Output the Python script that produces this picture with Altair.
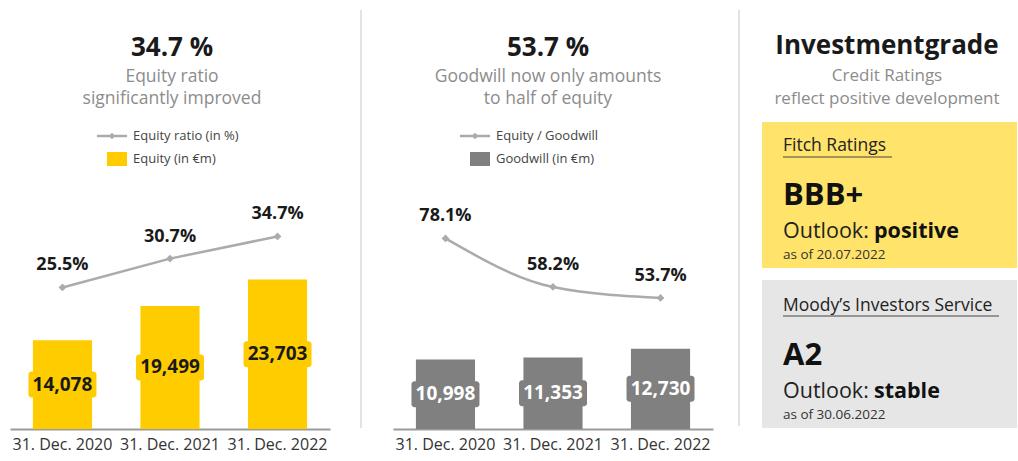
import altair as alt
import pandas as pd

# ---------------- data ----------------
dates = ["31. Dec. 2020", "31. Dec. 2021", "31. Dec. 2022"]
equity = [14078, 19499, 23703]            # Equity (in €m)
equity_ratio = [25.5, 30.7, 34.7]         # Equity ratio (in %)
goodwill = [10998, 11353, 12730]          # Goodwill (in €m)
equity_goodwill = [78.1, 58.2, 53.7]      # Equity / Goodwill (in %)

headers = ["34.7 %", "53.7 %", "Investmentgrade"]
subtitles = [["Equity ratio", "significantly improved"],
             ["Goodwill now only amounts", "to half of equity"],
             ["Credit Ratings", "reflect positive development"]]
legend_line = ["Equity ratio (in %)", "Equity / Goodwill"]
legend_bar = ["Equity (in €m)", "Goodwill (in €m)"]

agencies = ["Fitch Ratings", "Moody’s Investors Service"]
ratings = ["BBB+", "A2"]
outlooks = ["positive", "stable"]
as_of = ["as of 20.07.2022", "as of 30.06.2022"]

# ---------------- style ----------------
FONT = "Open Sans"
YELLOW = "#FFCC00"
GREY_BAR = "#808080"
LINE = "#ABABAB"
DARK = "#1a1a1a"
SUB = "#8c8c8c"
W, H = 320, 429
BAR_MAX = 68000
ONE = pd.DataFrame({"k": [0]})


def txt(t, x, y, size, color=DARK, weight="normal", align="center"):
    return alt.Chart(pd.DataFrame({"t": [t]})).mark_text(
        font=FONT, fontSize=size, fontWeight=weight, color=color, align=align, baseline="middle"
    ).encode(text="t:N", x=alt.value(x), y=alt.value(y))


def rect(x, x2, y, y2, color, radius=0):
    return alt.Chart(ONE).mark_rect(color=color, cornerRadius=radius).encode(
        x=alt.value(x), x2=alt.value(x2), y=alt.value(y), y2=alt.value(y2))


def rule(x, x2, y, y2, color, width):
    return alt.Chart(ONE).mark_rule(color=color, strokeWidth=width).encode(
        x=alt.value(x), x2=alt.value(x2), y=alt.value(y), y2=alt.value(y2))


def panel(values, pcts, bar_color, label_color, pct_max, interp, idx, cx, lx, sep_x=None):
    df = pd.DataFrame({"date": dates, "value": values, "pct": pcts})
    xenc = alt.X("date:N", sort=dates,
                 scale=alt.Scale(paddingInner=0.45, paddingOuter=0.213),
                 axis=alt.Axis(title=None, labelAngle=0, ticks=False, domainColor="#9a9a9a",
                               domainWidth=2, labelFont=FONT, labelFontSize=16,
                               labelColor="#333333", labelPadding=7))
    bscale = alt.Scale(domain=[0, BAR_MAX], nice=False, zero=True)
    pscale = alt.Scale(domain=[0, pct_max], nice=False, zero=True)
    half = 13 * BAR_MAX / H
    base = alt.Chart(df)
    bars = base.mark_bar(color=bar_color).encode(
        x=xenc, y=alt.Y("value:Q", scale=bscale, axis=None))
    box = base.transform_calculate(
        lo=f"datum.value/2 - {half}", hi=f"datum.value/2 + {half}"
    ).mark_bar(color=bar_color, width=68, cornerRadius=3).encode(
        x=xenc, y=alt.Y("lo:Q", scale=bscale, axis=None), y2="hi:Q")
    blabel = base.transform_calculate(mid="datum.value/2").mark_text(
        font=FONT, fontSize=19, fontWeight="bold", color=label_color, baseline="middle"
    ).encode(x=xenc, y=alt.Y("mid:Q", scale=bscale, axis=None),
             text=alt.Text("value:Q", format=",.0f"))
    line = base.mark_line(color=LINE, strokeWidth=2.5, interpolate=interp).encode(
        x=xenc, y=alt.Y("pct:Q", scale=pscale, axis=None))
    pts = base.mark_point(shape="diamond", filled=True, color=LINE, size=60, opacity=1).encode(
        x=xenc, y=alt.Y("pct:Q", scale=pscale, axis=None))
    plabel = base.transform_calculate(lab="format(datum.pct, '.1f') + '%'").mark_text(
        font=FONT, fontSize=18, fontWeight="bold", color=DARK, baseline="middle", dy=-22
    ).encode(x=xenc, y=alt.Y("pct:Q", scale=pscale, axis=None), text="lab:N")

    deco = [
        txt(headers[idx], cx, 48, 26, DARK, "bold"),
        txt(subtitles[idx][0], cx, 77, 17.5, SUB),
        txt(subtitles[idx][1], cx, 99, 17.5, SUB),
        rule(lx, lx + 30, 136, 136, LINE, 2.5),
        alt.Chart(ONE).mark_point(shape="diamond", filled=True, color=LINE, size=40, opacity=1)
        .encode(x=alt.value(lx + 15), y=alt.value(136)),
        txt(legend_line[idx], lx + 36, 136, 13, "#444444", align="left"),
        rect(lx + 10, lx + 30, 152, 166, bar_color),
        txt(legend_bar[idx], lx + 36, 159, 13, "#444444", align="left"),
    ]
    if sep_x is not None:
        deco.append(rule(sep_x, sep_x, 10, 428, "#e2e2e2", 2))
    return alt.layer(bars, box, blabel, line, pts, plabel, *deco).resolve_scale(
        y="independent").properties(width=W, height=H)


p1 = panel(equity, equity_ratio, YELLOW, DARK, 77.3, "linear", 0, 162, 87, 351)
p2 = panel(goodwill, equity_goodwill, GREY_BAR, "#ffffff", 175.8, "monotone", 1, 155, 67)

# ratings panel (origin at page x = 776)
p3 = alt.layer(
    rule(-37, -37, 10, 426, "#e2e2e2", 2),
    txt(headers[2], 111, 46, 26, DARK, "bold"),
    txt(subtitles[2][0], 111, 76, 17, SUB),
    txt(subtitles[2][1], 111, 99, 17, SUB),
    rect(-14, 241, 122, 268, "#FFE36B"),
    txt(agencies[0], 7, 146, 17.5, "#222222", align="left"),
    rule(7, 116, 157, 157, "#444444", 1),
    txt(ratings[0], 7, 196, 31, "#111111", "bold", align="left"),
    txt("Outlook:", 7, 232, 21.5, "#222222", align="left"),
    txt(outlooks[0], 98, 232, 21.5, "#111111", "bold", align="left"),
    txt(as_of[0], 7, 255, 13.5, "#333333", align="left"),
    rect(-14, 241, 280, 428, "#E6E6E6"),
    txt(agencies[1], 7, 306, 17.5, "#222222", align="left"),
    rule(7, 223, 316, 316, "#444444", 1),
    txt(ratings[1], 7, 356, 31, "#111111", "bold", align="left"),
    txt("Outlook:", 7, 392, 21.5, "#222222", align="left"),
    txt(outlooks[1], 98, 392, 21.5, "#111111", "bold", align="left"),
    txt(as_of[1], 7, 415, 13.5, "#333333", align="left"),
).properties(width=241, height=H)

chart = alt.hconcat(p1, p2, p3, spacing=63, bounds="flush").properties(
    padding={"left": 10, "top": 0, "right": 0, "bottom": 5},
    background="white",
).configure_view(stroke=None)

chart.save("out.html", embed_options={"renderer": "svg", "actions": False})
